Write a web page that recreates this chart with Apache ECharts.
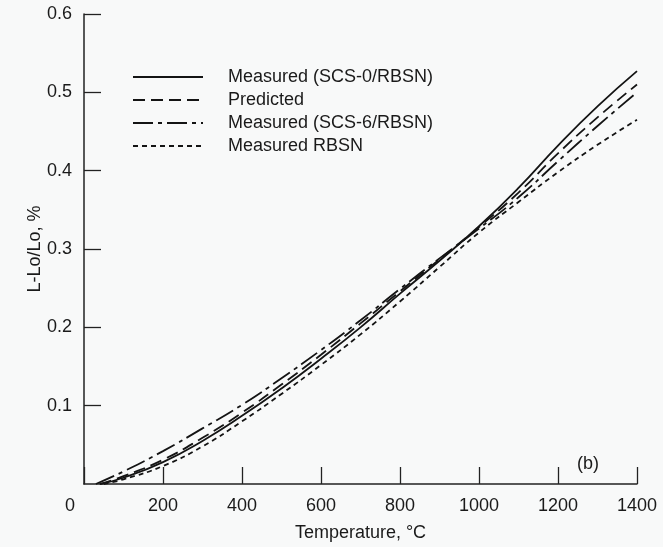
<!DOCTYPE html>
<html>
<head>
<meta charset="utf-8">
<script src="https://cdn.jsdelivr.net/npm/echarts@6/dist/echarts.min.js"></script>
<style>
html,body{margin:0;padding:0;background:#f8f9f9;}
#chart{width:663px;height:547px;}
</style>
</head>
<body>
<div id="chart"></div>
<script>
// Temperature (°C) -> L-Lo/Lo (%)
var scs0Measured = [[40,0],[100,0.008],[200,0.028],[300,0.055],[400,0.087],[500,0.122],[600,0.160],[700,0.200],[800,0.243],[900,0.285],[1000,0.329],[1100,0.378],[1200,0.432],[1300,0.482],[1400,0.527]];
var predicted   = [[40,0],[100,0.010],[200,0.031],[300,0.059],[400,0.091],[500,0.127],[600,0.165],[700,0.205],[800,0.246],[900,0.287],[1000,0.328],[1100,0.372],[1200,0.422],[1300,0.468],[1400,0.510]];
var scs6Measured = [[30,0],[100,0.016],[200,0.042],[300,0.071],[400,0.101],[500,0.135],[600,0.171],[700,0.209],[800,0.249],[900,0.288],[1000,0.326],[1100,0.366],[1200,0.412],[1300,0.457],[1400,0.500]];
var rbsnMeasured = [[50,0],[100,0.006],[200,0.023],[300,0.048],[400,0.080],[500,0.115],[600,0.152],[700,0.191],[800,0.233],[900,0.277],[1000,0.321],[1100,0.360],[1200,0.398],[1300,0.433],[1400,0.465]];
var seriesNames = ['Measured (SCS-0/RBSN)','Predicted','Measured (SCS-6/RBSN)','Measured RBSN'];
var xTicks = {min:0, max:1400, interval:200};
var yTicks = {min:0, max:0.6, interval:0.1};

var chart = echarts.init(document.getElementById('chart'));
var font = 'Liberation Sans, Arial, Helvetica, sans-serif';
var ink = '#141414';
var txt = '#1a1a1a';
function mk(name, data, type) {
  return {
    name: name, type: 'line', data: data, smooth: true,
    symbol: 'none', showSymbol: false,
    lineStyle: {color: ink, width: 1.8, type: type},
    itemStyle: {color: ink},
    z: 3
  };
}
chart.setOption({
  animation: false,
  backgroundColor: '#f8f9f9',
  grid: {left: 84, right: 26, top: 14, bottom: 62},
  legend: {
    orient: 'vertical', left: 127, top: 63, itemGap: 5,
    itemWidth: 70, itemHeight: 18,
    itemStyle: {opacity: 0},
    textStyle: {fontFamily: font, fontSize: 18, color: txt, padding: [0,0,0,20]},
    data: seriesNames
  },
  xAxis: {
    type: 'value', min: xTicks.min, max: xTicks.max, interval: xTicks.interval,
    name: 'Temperature, °C', nameLocation: 'middle', nameGap: 40, nameMoveOverlap: false,
    nameTextStyle: {fontFamily: font, fontSize: 18, color: txt},
    axisLine: {lineStyle: {color: '#222', width: 1.5}},
    axisTick: {inside: true, length: 17, lineStyle: {color: '#222', width: 1.3}},
    axisLabel: {fontFamily: font, fontSize: 18, color: txt, margin: 13,
      formatter: function(v){ return v === 0 ? '{z|0}' : String(v); },
      rich: {z: {fontFamily: font, fontSize: 18, color: txt, padding: [0, 28, 0, 0]}}},
    splitLine: {show: false}
  },
  yAxis: {
    type: 'value', min: yTicks.min, max: yTicks.max, interval: yTicks.interval,
    name: 'L-Lo/Lo, %', nameLocation: 'middle', nameGap: 40, nameMoveOverlap: false,
    nameTextStyle: {fontFamily: font, fontSize: 18, color: txt},
    axisLine: {show: true, lineStyle: {color: '#222', width: 1.5}},
    axisTick: {show: true, inside: true, length: 17, lineStyle: {color: '#222', width: 1.3}},
    axisLabel: {fontFamily: font, fontSize: 18, color: txt, margin: 12, showMinLabel: false,
      formatter: function(v){ return v.toFixed(1); }},
    splitLine: {show: false}
  },
  graphic: [{type: 'text', left: 577, top: 455, style: {text: '(b)', fontFamily: font, fontSize: 18, fill: txt}}],
  series: [
    mk(seriesNames[0], scs0Measured, 'solid'),
    mk(seriesNames[1], predicted, [12, 6]),
    mk(seriesNames[2], scs6Measured, [20, 5, 4, 5]),
    mk(seriesNames[3], rbsnMeasured, [5, 4])
  ]
});
</script>
</body>
</html>
